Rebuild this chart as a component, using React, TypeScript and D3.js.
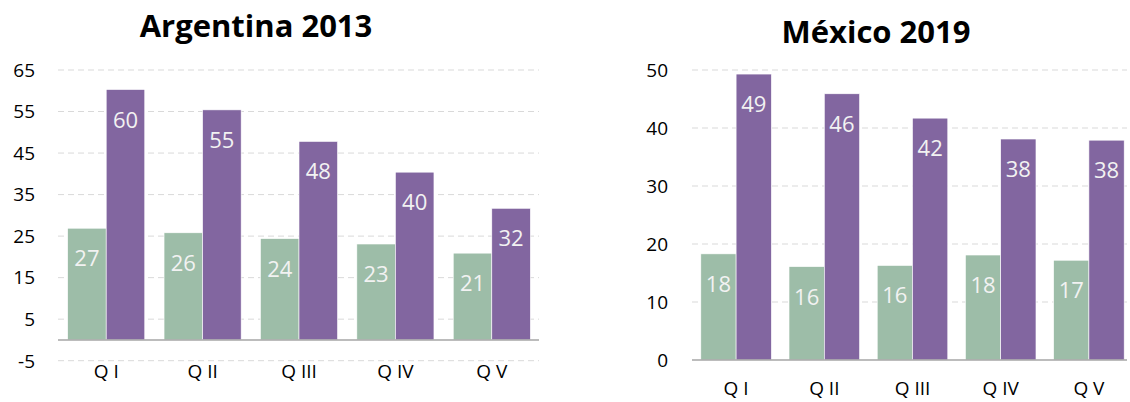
import { scaleBand, scaleLinear } from 'd3'

const QUINTILES = ['Q I', 'Q II', 'Q III', 'Q IV', 'Q V']

const ARG_TITLE = 'Argentina 2013'
const ARG_GREEN = [26.9, 25.8, 24.4, 23.1, 20.9]
const ARG_PURPLE = [60.3, 55.4, 47.8, 40.4, 31.7]
const ARG_TICKS = [-5, 5, 15, 25, 35, 45, 55, 65]

const MEX_TITLE = 'México 2019'
const MEX_GREEN = [18.3, 16.1, 16.3, 18.1, 17.2]
const MEX_PURPLE = [49.3, 45.9, 41.7, 38.1, 37.9]
const MEX_TICKS = [0, 10, 20, 30, 40, 50]

const GREEN = '#9dbda8'
const PURPLE = '#8266a0'
const FONT = "'Open Sans', 'Noto Sans', sans-serif"

type PanelProps = {
  title: string
  green: number[]
  purple: number[]
  ticks: number[]
  x0: number
  x1: number
  gridEnd: number
  y0: number
  y1: number
  tickX: number
  titleX: number
  titleY: number
  labelGap: number
}

function Panel({ title, green, purple, ticks, x0, x1, gridEnd, y0, y1, tickX, titleX, titleY, labelGap }: PanelProps) {
  const xScale = scaleBand()
    .domain(QUINTILES)
    .range([x0, x1])
    .paddingInner(0.2)
    .paddingOuter(0.1)

  const yScale = scaleLinear()
    .domain([ticks[0], ticks[ticks.length - 1]])
    .range([y0, y1])

  const barW = xScale.bandwidth() / 2
  const base = yScale(0)

  return (
    <g>
      <text x={titleX} y={titleY} textAnchor='middle' fontSize={31} fontWeight='bold' fill='#000'>
        {title}
      </text>

      {/* grid + y ticks */}
      {ticks.map((t) => (
        <g key={t}>
          {t !== 0 && (
            <line
              x1={x0}
              x2={gridEnd}
              y1={yScale(t)}
              y2={yScale(t)}
              stroke='#d9d9d9'
              strokeWidth={1}
              strokeDasharray='6 4'
            />
          )}
          <text x={tickX} y={yScale(t)} dy='0.36em' textAnchor='end' fontSize={19} fill='#000'>
            {t}
          </text>
        </g>
      ))}

      {/* bars */}
      {QUINTILES.map((q, i) => {
        const bx = xScale(q)!
        return (
          <g key={q}>
            <rect
              x={bx}
              y={yScale(green[i])}
              width={barW}
              height={base - yScale(green[i])}
              fill={GREEN}
              stroke='#ffffff'
              strokeWidth={0.6}
            />
            <rect
              x={bx + barW}
              y={yScale(purple[i])}
              width={barW}
              height={base - yScale(purple[i])}
              fill={PURPLE}
              stroke='#ffffff'
              strokeWidth={0.6}
            />
            <text
              x={bx + barW / 2}
              y={yScale(green[i]) + 38}
              textAnchor='middle'
              fontSize={22}
              fill='#f2f2f2'
            >
              {Math.round(green[i])}
            </text>
            <text
              x={bx + barW * 1.5}
              y={yScale(purple[i]) + 38}
              textAnchor='middle'
              fontSize={22}
              fill='#f2f2f2'
            >
              {Math.round(purple[i])}
            </text>
            <text
              x={bx + xScale.bandwidth() / 2}
              y={base + labelGap}
              textAnchor='middle'
              fontSize={19}
              fill='#000'
            >
              {q}
            </text>
          </g>
        )
      })}

      {/* zero axis */}
      <line x1={x0} x2={gridEnd} y1={base} y2={base} stroke='#a6a6a6' strokeWidth={1.5} />
    </g>
  )
}

export default function App() {
  return (
    <svg
      width={1130}
      height={402}
      style={{ position: 'absolute', left: 0, top: 0, background: '#fff', fontFamily: FONT }}
    >
      <Panel
        title={ARG_TITLE}
        green={ARG_GREEN}
        purple={ARG_PURPLE}
        ticks={ARG_TICKS}
        x0={58}
        x1={540}
        gridEnd={539}
        y0={360.7}
        y1={70}
        tickX={35}
        titleX={256}
        titleY={37}
        labelGap={38.5}
      />
      <Panel
        title={MEX_TITLE}
        green={MEX_GREEN}
        purple={MEX_PURPLE}
        ticks={MEX_TICKS}
        x0={692}
        x1={1133}
        gridEnd={1127}
        y0={360}
        y1={70}
        tickX={668}
        titleX={876}
        titleY={43}
        labelGap={34.5}
      />
    </svg>
  )
}
